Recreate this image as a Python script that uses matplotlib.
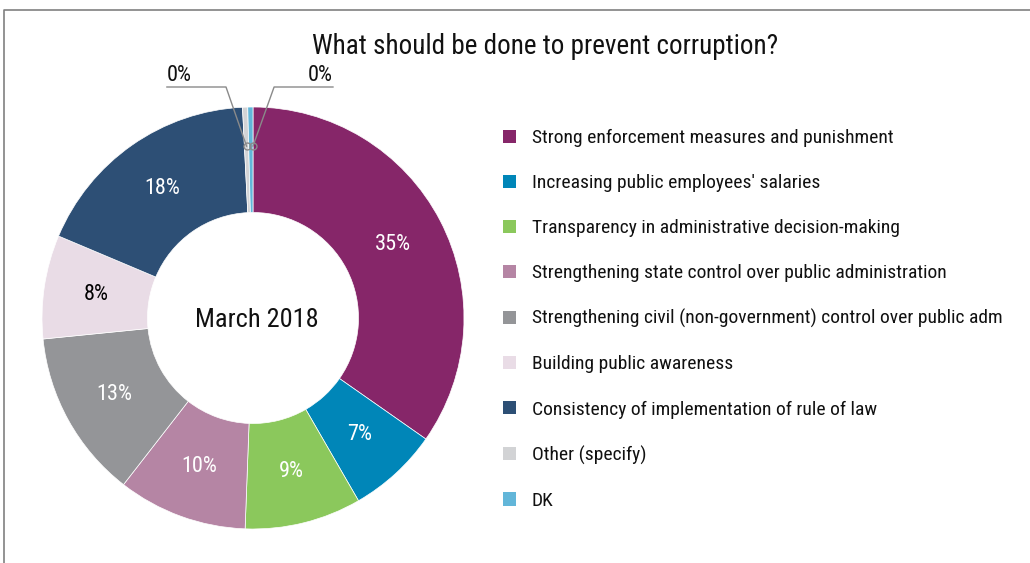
import matplotlib
matplotlib.use("Agg")
import matplotlib.pyplot as plt
from matplotlib import font_manager
from matplotlib.lines import Line2D
import numpy as np

# Survey answers, March 2018 (share of respondents, %)
categories = [
    "Strong enforcement measures and punishment",
    "Increasing public employees' salaries",
    "Transparency in administrative decision-making",
    "Strengthening state control over public administration",
    "Strengthening civil (non-government) control over public adm",
    "Building public awareness",
    "Consistency of implementation of rule of law",
    "Other (specify)",
    "DK",
]
shares = [35, 7, 9, 10, 13, 8, 18, 0.4, 0.4]
colors = ["#862669", "#0086B8", "#8BC85C", "#B585A4", "#949598",
          "#E9DCE6", "#2D4F75", "#D2D3D5", "#62B6D9"]
label_colors = ["white", "white", "white", "white", "white",
                "black", "white", "black", "black"]

title = "What should be done to prevent corruption?"
center_text = "March 2018"

# Pick a narrow face if one is available
names = {f.name for f in font_manager.fontManager.ttflist}
narrow = [f for f in font_manager.fontManager.ttflist
          if f.name == "DejaVu Sans" and "ondensed" in str(f.stretch)]
if "Liberation Sans Narrow" in names:
    FONT = dict(family="Liberation Sans Narrow")
elif "Roboto Condensed" in names:
    FONT = dict(family="Roboto Condensed")
elif narrow:
    FONT = dict(family="DejaVu Sans", stretch="condensed")
else:
    FONT = dict(family="Liberation Sans")

W, H = 1030, 563
fig = plt.figure(figsize=(W / 100, H / 100), dpi=100)

# Outer frame (open at right/bottom edges of the canvas)
fig.add_artist(Line2D([4 / W, 4 / W, 1.0], [0.0, 1 - 10 / H, 1 - 10 / H],
                      transform=fig.transFigure, color="#808080", lw=1.2))

cx, cy, R = 253, 318, 211
ax = fig.add_axes([(cx - R) / W, (H - cy - R) / H, 2 * R / W, 2 * R / H])
wedges, _ = ax.pie(shares, colors=colors, startangle=90, counterclock=False,
                   radius=1.0, wedgeprops=dict(width=0.5, edgecolor="white",
                                               linewidth=0.5))
ax.set_xlim(-1, 1)
ax.set_ylim(-1, 1)
ax.set_aspect("auto")
ax.axis("off")

r_lab = 0.75
for w, v, tc in zip(wedges, shares, label_colors):
    if v < 1:
        continue
    ang = np.deg2rad((w.theta1 + w.theta2) / 2)
    ax.text(r_lab * np.cos(ang), r_lab * np.sin(ang), f"{v:.0f}%",
            ha="center", va="center", color=tc, fontsize=16, **FONT)

# Leader lines for the two tiny slices
yl = (cy - 87) / R
leaders = [(7, -0.128, -0.408, "left", 0.5), (8, 0.100, 0.379, "right", 0.0)]
for i, xc, xe, align, frac in leaders:
    w = wedges[i]
    a0, a1 = sorted((w.theta1, w.theta2))
    ang = np.deg2rad(a0 + frac * (a1 - a0))
    px, py = 0.815 * np.cos(ang), 0.815 * np.sin(ang)
    ax.plot([px, xc, xe], [py, yl, yl], color="#8a8a8a", lw=1.0, clip_on=False)
    ax.plot([px], [py], marker="o", ms=5, mfc="none", mec="#8a8a8a",
            mew=1.0, clip_on=False)
    ax.text(xe, yl + 0.005, f"{shares[i]:.0f}%", ha=align,
            va="bottom", fontsize=16, color="#111111", **FONT)

ax.text(0.019, -0.01, center_text, ha="center", va="center", fontsize=19,
        color="#111111", **FONT)

fig.text(545 / W, 1 - 47 / H, title, ha="center", va="center", fontsize=19.5,
         color="#111111", **FONT)

leg = fig.legend(wedges, categories, loc="upper left",
                 bbox_to_anchor=(503 / W, 1 - 129 / H), frameon=False,
                 prop=font_manager.FontProperties(size=14, **FONT),
                 handlelength=0.67, handleheight=0.67, handletextpad=0.82,
                 labelspacing=1.39, borderaxespad=0, borderpad=0)
for t in leg.get_texts():
    t.set_color("#111111")
for h in leg.legend_handles:
    h.set_edgecolor("none")

fig.savefig("out.png", dpi=100)
